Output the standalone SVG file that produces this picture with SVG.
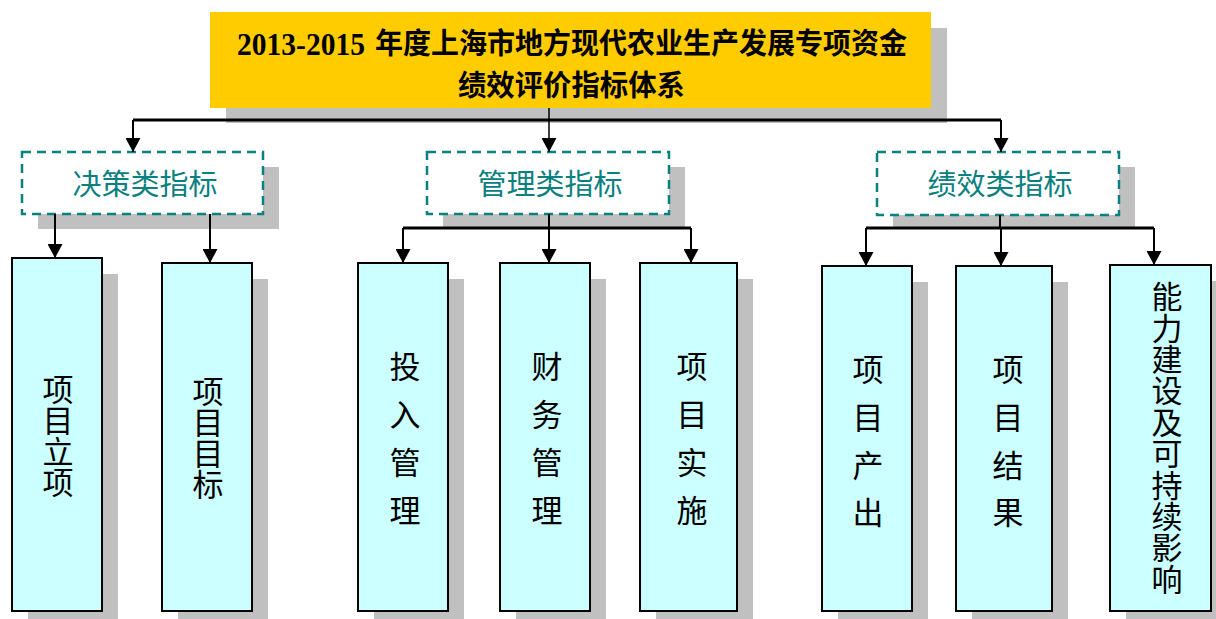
<svg xmlns="http://www.w3.org/2000/svg" width="1216" height="619" viewBox="0 0 1216 619">
<style>
.sh{fill:#C0C0C0}
.cat{fill:#FFFFFF;stroke:#0A8080;stroke-width:2.5;stroke-dasharray:9 6}
.leaf{fill:#CCFFFF;stroke:#000;stroke-width:2}
.ct{font-family:"Noto Sans CJK SC","Noto Sans",sans-serif;font-size:29px;fill:#0A8080;text-anchor:middle}
.lt{font-family:"Noto Sans CJK SC","Noto Sans",sans-serif;font-size:31px;fill:#000;writing-mode:vertical-rl;text-orientation:upright}
.tt{font-family:"Liberation Serif","Noto Sans CJK SC",serif;font-weight:bold;font-size:32px;fill:#000}
.tc{font-family:"Noto Sans CJK SC",sans-serif;font-weight:bold;font-size:29px;fill:#000}
.st{stroke:#000;stroke-width:2;fill:none}
.bar{stroke:#000;stroke-width:3;fill:none}
</style>
<defs>
<marker id="ah" markerUnits="userSpaceOnUse" markerWidth="15" markerHeight="15" refX="14" refY="7.5" orient="auto" viewBox="0 0 14 15">
<path d="M0,0 L14,7.5 L0,15 z" fill="#000"/>
</marker>
</defs>
<rect width="1216" height="619" fill="#FFFFFF"/>

<g id="title">
<rect class="sh" x="226" y="28" width="721" height="95"/>
<rect x="210" y="12" width="721" height="96" fill="#FFCC00"/>
<text class="tt" x="237" y="55" textLength="128" lengthAdjust="spacingAndGlyphs">2013-2015</text>
<text class="tc" x="375" y="54" textLength="532" lengthAdjust="spacingAndGlyphs">年度上海市地方现代农业生产发展专项资金</text>
<text class="tc" x="458" y="96" textLength="227" lengthAdjust="spacingAndGlyphs">绩效评价指标体系</text>
</g>

<g id="cat-decision">
<rect class="sh" x="38" y="167" width="241" height="62"/>
<rect class="cat" x="22" y="152" width="241" height="62"/>
<text class="ct" x="145" y="195">决策类指标</text>
</g>
<g id="cat-management">
<rect class="sh" x="443" y="167" width="242" height="61"/>
<rect class="cat" x="427" y="152" width="242" height="62"/>
<text class="ct" x="550" y="195">管理类指标</text>
</g>
<g id="cat-performance">
<rect class="sh" x="893" y="167" width="242" height="61"/>
<rect class="cat" x="877" y="152" width="242" height="63"/>
<text class="ct" x="1000" y="195">绩效类指标</text>
</g>

<g id="leaf-lixiang">
<rect class="sh" x="28" y="274" width="90" height="353"/>
<rect class="leaf" x="12" y="258" width="90" height="353"/>
<text class="lt" x="58" y="374">项目立项</text>
</g>
<g id="leaf-mubiao">
<rect class="sh" x="178" y="279" width="90" height="348"/>
<rect class="leaf" x="162" y="263" width="90" height="348"/>
<text class="lt" x="208" y="376">项目目标</text>
</g>

<g id="leaf-touru">
<rect class="sh" x="374" y="279" width="90" height="348"/>
<rect class="leaf" x="358" y="263" width="90" height="348"/>
<text class="lt" x="405" y="351" style="letter-spacing:17px">投入管理</text>
</g>
<g id="leaf-caiwu">
<rect class="sh" x="516" y="279" width="90" height="348"/>
<rect class="leaf" x="500" y="263" width="90" height="348"/>
<text class="lt" x="547" y="351" style="letter-spacing:17px">财务管理</text>
</g>
<g id="leaf-shishi">
<rect class="sh" x="656" y="279" width="97" height="348"/>
<rect class="leaf" x="640" y="263" width="97" height="348"/>
<text class="lt" x="692" y="351" style="letter-spacing:17px">项目实施</text>
</g>

<g id="leaf-chanchu">
<rect class="sh" x="838" y="282" width="90" height="345"/>
<rect class="leaf" x="822" y="266" width="90" height="345"/>
<text class="lt" x="868" y="354" style="letter-spacing:16.7px">项目产出</text>
</g>
<g id="leaf-jieguo">
<rect class="sh" x="972" y="282" width="96" height="345"/>
<rect class="leaf" x="956" y="266" width="96" height="345"/>
<text class="lt" x="1008" y="354" style="letter-spacing:16.7px">项目结果</text>
</g>
<g id="leaf-nengli">
<rect class="sh" x="1126" y="281" width="101" height="346"/>
<rect class="leaf" x="1110" y="265" width="101" height="346"/>
<text class="lt" x="1167" y="281" style="letter-spacing:0.4px">能力建设及可持续影响</text>
</g>

<g id="connectors">
<path class="bar" d="M133,120 H1001"/>
<path class="st" d="M549,108 V152" marker-end="url(#ah)" style="stroke-width:1.5"/>
<path class="st" d="M133,120 V152" marker-end="url(#ah)"/>
<path class="st" d="M1001,120 V152" marker-end="url(#ah)"/>

<path class="st" d="M55,214 V258" marker-end="url(#ah)"/>
<path class="st" d="M210,214 V263" marker-end="url(#ah)"/>

<path class="st" d="M549,214 V228"/>
<path class="bar" d="M403,228 H691"/>
<path class="st" d="M403,228 V263" marker-end="url(#ah)"/>
<path class="st" d="M549,228 V263" marker-end="url(#ah)"/>
<path class="st" d="M691,228 V263" marker-end="url(#ah)"/>

<path class="st" d="M1000,215 V228"/>
<path class="bar" d="M866,228 H1154"/>
<path class="st" d="M866,228 V266" marker-end="url(#ah)"/>
<path class="st" d="M1001,228 V266" marker-end="url(#ah)"/>
<path class="st" d="M1154,228 V265" marker-end="url(#ah)"/>
</g>
</svg>
